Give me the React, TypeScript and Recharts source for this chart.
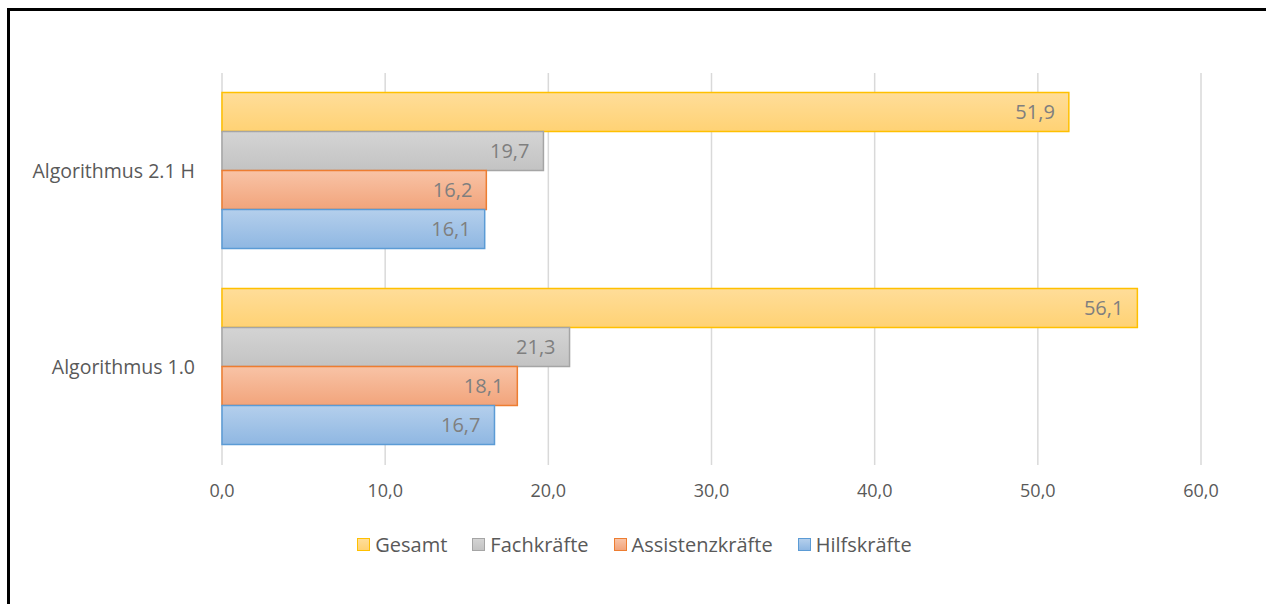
import React from 'react'
import { BarChart, Bar, XAxis, YAxis, CartesianGrid, Legend, LabelList } from 'recharts'

const categories = ['Algorithmus 2.1 H', 'Algorithmus 1.0']
const gesamt = [51.9, 56.1]
const fachkraefte = [19.7, 21.3]
const assistenzkraefte = [16.2, 18.1]
const hilfskraefte = [16.1, 16.7]
const xTicks = [0, 10, 20, 30, 40, 50, 60]

const series = [
  { key: 'gesamt', name: 'Gesamt', stroke: '#FFC000', top: '#FFDD99', bottom: '#FFD274' },
  { key: 'fach', name: 'Fachkräfte', stroke: '#A5A5A5', top: '#D4D4D4', bottom: '#C3C3C3' },
  { key: 'assist', name: 'Assistenzkräfte', stroke: '#ED7D31', top: '#F8C3A6', bottom: '#F2A47B' },
  { key: 'hilfs', name: 'Hilfskräfte', stroke: '#5B9BD5', top: '#B4CFEC', bottom: '#8FB7E2' },
]

const data = categories.map((name, i) => ({
  name,
  gesamt: gesamt[i],
  fach: fachkraefte[i],
  assist: assistenzkraefte[i],
  hilfs: hilfskraefte[i],
}))

const FONT = '"Open Sans", "Noto Sans", sans-serif'
const fmt = (v: number) => v.toFixed(1).replace('.', ',')

const renderLegend = () => (
  <div
    style={{
      display: 'flex',
      justifyContent: 'center',
      gap: 25,
      paddingLeft: 58,
      fontFamily: FONT,
      fontSize: 20,
      color: '#595959',
    }}
  >
    {series.map((s) => (
      <div key={s.key} style={{ display: 'flex', alignItems: 'center' }}>
        <span
          style={{
            display: 'inline-block',
            width: 11,
            height: 11,
            marginRight: 5,
            border: `1px solid ${s.stroke}`,
            background: `linear-gradient(${s.top}, ${s.bottom})`,
          }}
        />
        {s.name}
      </div>
    ))}
  </div>
)

export default function App() {
  return (
    <div
      style={{
        position: 'absolute',
        left: 7,
        top: 8,
        width: 1256,
        height: 593,
        borderTop: '3px solid #000',
        borderLeft: '3px solid #000',
        overflow: 'hidden',
        background: '#fff',
      }}
    >
      <BarChart
        width={1256}
        height={593}
        data={data}
        layout="vertical"
        margin={{ top: 62, right: 65, left: 0, bottom: 46 }}
        barCategoryGap="10%"
        barGap={0}
      >
        <defs>
          {series.map((s) => (
            <linearGradient key={s.key} id={`grad-${s.key}`} x1="0" y1="0" x2="0" y2="1">
              <stop offset="0%" stopColor={s.top} />
              <stop offset="100%" stopColor={s.bottom} />
            </linearGradient>
          ))}
        </defs>
        <CartesianGrid horizontal={false} stroke="#D9D9D9" strokeWidth={1.5} />
        <XAxis
          type="number"
          domain={[0, 60]}
          ticks={xTicks}
          tickFormatter={fmt}
          axisLine={false}
          tickLine={false}
          tickMargin={13}
          height={66}
          tick={{ fill: '#595959', fontSize: 18, fontFamily: FONT }}
        />
        <YAxis
          type="category"
          dataKey="name"
          width={212}
          axisLine={false}
          tickLine={false}
          tickMargin={21}
          tick={{ fill: '#595959', fontSize: 19.5, fontFamily: FONT }}
        />
        <Legend verticalAlign="bottom" content={renderLegend} />
        {series.map((s) => (
          <Bar
            key={s.key}
            dataKey={s.key}
            name={s.name}
            fill={`url(#grad-${s.key})`}
            stroke={s.stroke}
            strokeWidth={1.5}
            isAnimationActive={false}
          >
            <LabelList
              dataKey={s.key}
              position="insideRight"
              offset={14}
              formatter={(v: number) => fmt(v)}
              style={{ fill: '#7F7F7F', fontSize: 20, fontFamily: FONT }}
            />
          </Bar>
        ))}
      </BarChart>
    </div>
  )
}
